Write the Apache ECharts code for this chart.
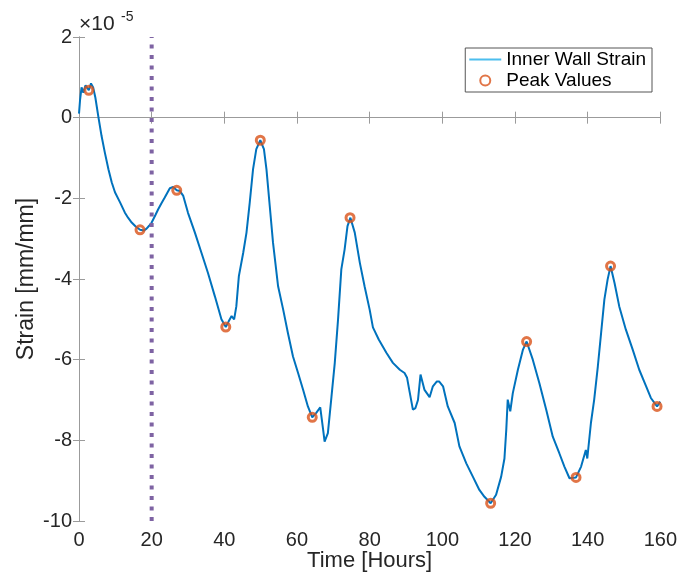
<!DOCTYPE html>
<html>
<head>
<meta charset="utf-8">
<script src="https://cdn.jsdelivr.net/npm/echarts@6/dist/echarts.min.js"></script>
<style>
html,body{margin:0;padding:0;background:#fff;}
#chart{width:680px;height:577px;}
</style>
</head>
<body>
<div id="chart"></div>
<script>
// Strain values are in units of 1e-5 mm/mm (axis shows ×10^-5)
const hours = [0,0.3,0.7,1.2,1.8,2.7,3.3,3.9,4.5,5.3,6.2,7.1,8.1,9.0,9.9,11.3,12.6,13.5,14.5,15.6,16.8,17.8,18.6,19.3,20.0,21.0,21.8,22.7,23.6,25.0,25.9,26.9,27.8,28.7,30.0,31.9,33.7,35.5,37.4,39.2,40.4,41.2,42.0,42.7,43.3,44.0,45.2,46.1,47.0,47.9,48.8,49.9,50.9,51.6,52.5,53.4,54.8,56.2,57.5,58.9,60.3,61.7,63.0,64.2,65.3,66.4,67.2,67.6,68.5,69.5,70.4,71.3,72.2,73.1,73.9,74.7,75.9,77.3,78.6,80.0,80.9,82.5,84.6,86.4,88.3,89.6,90.3,91.0,91.9,92.6,93.3,94.0,95.1,96.5,97.4,98.5,99.1,100.2,101.5,103.4,104.7,106.6,108.4,110.2,111.6,113.3,114.8,116.2,117.1,117.6,118.0,118.7,119.4,120.8,122.2,123.2,124.9,126.7,128.6,130.4,132.2,133.6,135.0,136.8,138.2,139.5,139.9,140.9,141.8,142.8,143.7,144.6,145.5,146.3,147.4,148.7,150.5,152.4,154.2,156.1,157.4,159.1,160.0];
const strainE5 = [0.10,0.45,0.75,0.62,0.80,0.68,0.85,0.75,0.50,0.04,-0.45,-0.86,-1.28,-1.60,-1.85,-2.10,-2.35,-2.48,-2.60,-2.70,-2.78,-2.80,-2.75,-2.68,-2.60,-2.42,-2.27,-2.12,-1.98,-1.75,-1.72,-1.80,-1.82,-1.94,-2.36,-2.85,-3.35,-3.85,-4.43,-5.00,-5.19,-5.05,-4.92,-5.00,-4.68,-3.93,-3.35,-2.85,-2.10,-1.28,-0.78,-0.56,-0.78,-1.28,-2.19,-3.10,-4.18,-4.76,-5.34,-5.92,-6.33,-6.75,-7.16,-7.43,-7.32,-7.18,-7.74,-8.03,-7.82,-6.91,-6.08,-5.00,-3.76,-3.27,-2.69,-2.48,-2.85,-3.60,-4.18,-4.76,-5.20,-5.50,-5.83,-6.08,-6.25,-6.33,-6.45,-6.80,-7.24,-7.20,-7.00,-6.37,-6.75,-6.93,-6.66,-6.54,-6.54,-6.66,-7.16,-7.57,-8.15,-8.57,-8.90,-9.23,-9.40,-9.56,-9.35,-8.90,-8.45,-7.74,-6.99,-7.28,-6.83,-6.25,-5.75,-5.55,-6.00,-6.58,-7.24,-7.91,-8.32,-8.65,-8.94,-8.92,-8.65,-8.24,-8.45,-7.57,-6.99,-6.17,-5.34,-4.51,-4.01,-3.68,-4.10,-4.68,-5.25,-5.75,-6.25,-6.66,-6.95,-7.16,-7.04];
const peakHours = [2.7,16.8,26.9,40.4,49.9,64.2,74.6,113.3,123.2,136.8,146.3,159.1];
const peakStrainE5 = [0.68,-2.78,-1.80,-5.19,-0.56,-7.43,-2.48,-9.56,-5.55,-8.92,-3.68,-7.16];
const eventHour = 20;
const xTicks = [0,20,40,60,80,100,120,140,160];
const yTicks = [-10,-8,-6,-4,-2,0,2];
const xLabel = 'Time [Hours]';
const yLabel = 'Strain [mm/mm]';
const seriesNames = ['Inner Wall Strain','Peak Values'];

const FONT = '"Liberation Sans", Arial, Helvetica, sans-serif';
const AX = '#9b9b9b';
const TXT = '#262626';

const lineData = hours.map((h,i)=>[h,strainE5[i]]);
const peakData = peakHours.map((h,i)=>[h,peakStrainE5[i]]);
const eventData = [[eventHour, yTicks[0]],[eventHour, yTicks[yTicks.length-1]]];

const chart = echarts.init(document.getElementById('chart'), null, {renderer:'canvas'});
const baseAxis = {
  axisLine:{show:true, lineStyle:{color:AX, width:1}},
  axisTick:{show:true, inside:true, length:6, lineStyle:{color:AX, width:1}},
  splitLine:{show:false}
};
chart.setOption({
  animation:false,
  backgroundColor:'#fff',
  textStyle:{fontFamily:FONT},
  grid:{left:79, right:18, top:37, bottom:56, containLabel:false},
  xAxis:[
    Object.assign({type:'value', min:xTicks[0], max:xTicks[xTicks.length-1], interval:20, position:'bottom',
      name:xLabel, nameLocation:'middle', nameGap:29, nameMoveOverlap:false,
      nameTextStyle:{fontSize:22, color:TXT, fontFamily:FONT},
      axisLabel:{fontSize:20, color:TXT, margin:9, fontFamily:FONT}}, baseAxis),
    Object.assign({type:'value', min:xTicks[0], max:xTicks[xTicks.length-1], interval:20, position:'top',
      axisLabel:{show:false}}, baseAxis)
  ],
  yAxis:[
    Object.assign({type:'value', min:yTicks[0], max:yTicks[yTicks.length-1], interval:2, position:'left',
      name:yLabel, nameLocation:'middle', nameGap:41, nameMoveOverlap:false,
      nameTextStyle:{fontSize:23, color:TXT, fontFamily:FONT},
      axisLabel:{fontSize:20, color:TXT, margin:7, fontFamily:FONT}}, baseAxis),
    Object.assign({type:'value', min:yTicks[0], max:yTicks[yTicks.length-1], interval:2, position:'right',
      axisLabel:{show:false}}, baseAxis)
  ],
  legend:{
    data:[
      {name:seriesNames[0], icon:'path://M0,0 L10,0 L10,0.6 L0,0.6 Z'},
      {name:seriesNames[1]}
    ],
    orient:'vertical', right:28, top:48,
    backgroundColor:'#fff',
    borderColor:'#555', borderWidth:1, borderRadius:0,
    padding:[2,6,2,4], itemGap:2,
    itemWidth:32, itemHeight:10,
    textStyle:{fontSize:19, color:'#000', fontFamily:FONT}
  },
  graphic:[
    {type:'text', left:79, top:14, style:{text:'×10', fontSize:21, fill:TXT, fontFamily:FONT}},
    {type:'text', left:121, top:10, style:{text:'-5', fontSize:14, fill:TXT, fontFamily:FONT}}
  ],
  series:[
    {name:seriesNames[0], type:'line', data:lineData, symbol:'none', showSymbol:false,
      lineStyle:{color:'#0072BD', width:2}, itemStyle:{color:'#4DBEEE'}, z:2},
    {name:seriesNames[1], type:'scatter', data:peakData, symbol:'circle', symbolSize:8,
      itemStyle:{color:'rgba(255,255,255,0)', borderColor:'#D95319', borderWidth:3}, z:3},
    {name:'event', type:'line', data:eventData, symbol:'none', showSymbol:false,
      lineStyle:{color:'#7E63A3', width:4, type:[4,6.5]}, z:4, silent:true}
  ]
});
</script>
</body>
</html>
